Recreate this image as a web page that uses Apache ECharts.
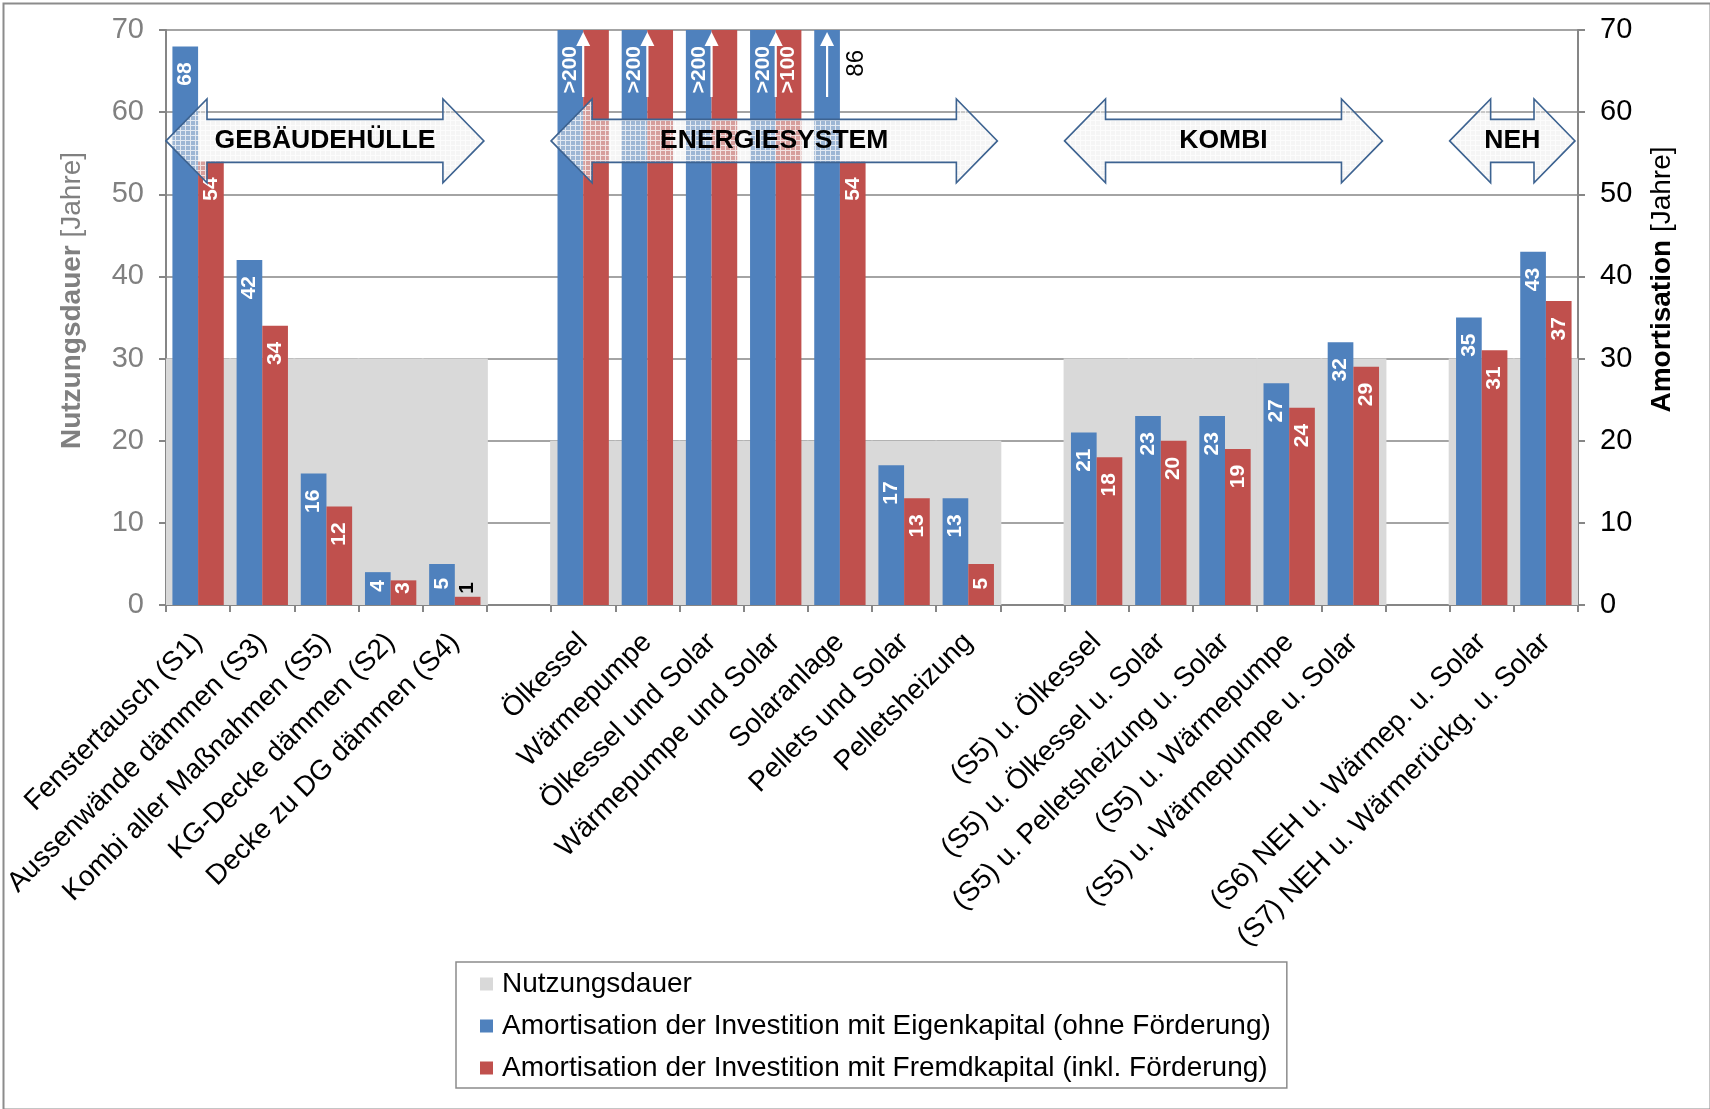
<!DOCTYPE html>
<html><head><meta charset="utf-8">
<script src="https://cdn.jsdelivr.net/npm/echarts@6/dist/echarts.min.js"></script>
<style>html,body{margin:0;padding:0;background:#fff}#c{width:1710px;height:1109px}</style>
</head><body><div id="c"></div>
<script>
const categories = [
  'Fenstertausch (S1)', 'Aussenwände dämmen (S3)', 'Kombi aller Maßnahmen (S5)', 'KG-Decke dämmen (S2)', 'Decke zu DG dämmen (S4)',
  ' ',
  'Ölkessel', 'Wärmepumpe', 'Ölkessel und Solar', 'Wärmepumpe und Solar', 'Solaranlage', 'Pellets und Solar', 'Pelletsheizung',
  '  ',
  '(S5) u. Ölkessel', '(S5) u. Ölkessel u. Solar', '(S5) u. Pelletsheizung u. Solar', '(S5) u. Wärmepumpe', '(S5) u. Wärmepumpe u. Solar',
  '   ',
  '(S6) NEH u. Wärmep. u. Solar', '(S7) NEH u. Wärmerückg. u. Solar'
];
const nutzungsdauer = [30, 30, 30, 30, 30, null, 20, 20, 20, 20, 20, 20, 20, null, 30, 30, 30, 30, 30, null, 30, 30];
const eigenkapital  = [68, 42, 16, 4, 5, null, 200, 200, 200, 200, 86, 17, 13, null, 21, 23, 23, 27, 32, null, 35, 43];
const fremdkapital  = [54, 34, 12, 3, 1, null, 200, 200, 200, 100, 54, 13, 5, null, 18, 20, 19, 24, 29, null, 31, 37];
// indices whose value is only a lower bound (shown as ">value")
const eigenkapitalLowerBound = [6, 7, 8, 9];
const fremdkapitalLowerBound = [9];
// indices without a value label in the original
const fremdkapitalNoLabel = [6, 7, 8];
const groups = [
  { name: 'GEBÄUDEHÜLLE', first: 0, last: 4 },
  { name: 'ENERGIESYSTEM', first: 6, last: 12 },
  { name: 'KOMBI', first: 14, last: 18 },
  { name: 'NEH', first: 20, last: 21 }
];
const yMin = 0, yMax = 70, yStep = 10;
const seriesNames = ['Nutzungsdauer',
  'Amortisation der Investition mit Eigenkapital (ohne Förderung)',
  'Amortisation der Investition mit Fremdkapital (inkl. Förderung)'];

const FONT = 'Liberation Sans, Arial, sans-serif';
const GRIDC = '#868686';

function labelText(lb) {
  return p => (lb.includes(p.dataIndex) ? '>' : '') + p.value;
}
function dist(v) { return Math.max(2, Math.min(16, (v - 3) * 6 + 2)); }
const baseLabel = {
  show: true, position: 'insideTop', rotate: 90, align: 'right', verticalAlign: 'middle',
  distance: 16, color: '#fff', fontWeight: 'bold', fontSize: 21, fontFamily: FONT
};
const blueData = eigenkapital.map((v, i) => {
  if (v == null) return null;
  if (v > yMax && !eigenkapitalLowerBound.includes(i)) {
    // exact value beyond axis: label outside, black
    return { value: v, label: { position: ['165%', 20], align: 'right', verticalAlign: 'middle',
      color: '#000', fontWeight: 'normal', fontSize: 24 } };
  }
  if (v < 6) return { value: v, label: { distance: dist(v) } };
  return v;
});
const redData = fremdkapital.map((v, i) => {
  if (v == null) return null;
  if (fremdkapitalNoLabel.includes(i)) return { value: v, label: { show: false } };
  if (v < 2) return { value: v, label: { position: 'top', distance: 3, align: 'left', verticalAlign: 'middle', color: '#000' } };
  if (v < 6) return { value: v, label: { distance: dist(v) } };
  return v;
});
const overflow = eigenkapital.map((v, i) => (v != null && v > yMax ? [i] : null)).filter(Boolean);

// pattern for the group arrows
const pc = document.createElement('canvas');
pc.width = 5; pc.height = 5;
const pctx = pc.getContext('2d');
pctx.fillStyle = 'rgba(236,236,236,0.5)';
pctx.fillRect(0, 0, 5, 5);
pctx.fillStyle = 'rgba(255,255,255,0.7)';
pctx.fillRect(0, 0, 5, 1);
pctx.fillRect(0, 1, 1, 4);

const chart = echarts.init(document.getElementById('c'));
chart.setOption({
  animation: false,
  backgroundColor: '#fff',
  textStyle: { fontFamily: FONT },
  graphic: [{ type: 'rect', left: 1, top: 1, silent: true, z: -10,
    shape: { width: 1707, height: 1106 }, style: { fill: 'none', stroke: '#8c8c8c', lineWidth: 2 } }],
  grid: { left: 166, right: 132, top: 30, bottom: 504, containLabel: false, outerBoundsMode: 'none' },
  legend: {
    data: seriesNames, orient: 'vertical', left: 456, top: 962,
    padding: [8, 16, 6, 24], itemGap: 14, itemWidth: 13, itemHeight: 13, icon: 'rect',
    borderColor: '#8c8c8c', borderWidth: 1.5, selectedMode: false,
    textStyle: { fontSize: 28, color: '#000', fontFamily: FONT, padding: [0, 0, 0, 4] }
  },
  xAxis: [{
    type: 'category', data: categories, position: 'bottom',
    axisLine: { lineStyle: { color: GRIDC, width: 2 } },
    axisTick: { show: true, length: 7, interval: 0, lineStyle: { color: GRIDC, width: 2 } },
    axisLabel: { rotate: 45, interval: 0, fontSize: 28, color: '#000', margin: 33, fontFamily: FONT }
  }, {
    type: 'category', data: categories, show: false
  }],
  yAxis: [{
    type: 'value', position: 'left', min: yMin, max: yMax, interval: yStep,
    axisLine: { show: true, lineStyle: { color: GRIDC, width: 2 } },
    axisTick: { show: true, length: 7, lineStyle: { color: GRIDC, width: 2 } },
    axisLabel: { fontSize: 29, color: '#808080', margin: 22, fontFamily: FONT },
    splitLine: { show: false },
    name: '{b|Nutzungsdauer }{n|[Jahre]}', nameLocation: 'middle', nameGap: 80, nameRotate: 90,
    nameTextStyle: { padding: [0, 0, 0, 34], rich: {
      b: { fontWeight: 'bold', fontSize: 28, color: '#808080', fontFamily: FONT },
      n: { fontSize: 28, color: '#808080', fontFamily: FONT } } }
  }, {
    type: 'value', position: 'right', min: yMin, max: yMax, interval: yStep,
    axisLine: { show: true, lineStyle: { color: GRIDC, width: 2 } },
    axisTick: { show: true, length: 7, lineStyle: { color: GRIDC, width: 2 } },
    axisLabel: { fontSize: 29, color: '#000', margin: 22, fontFamily: FONT },
    splitLine: { show: true, lineStyle: { color: GRIDC, width: 1.6 } },
    name: '{b|Amortisation }{n|[Jahre]}', nameLocation: 'middle', nameGap: 70, nameRotate: 90,
    nameTextStyle: { padding: [0, 0, 0, 76], rich: {
      b: { fontWeight: 'bold', fontSize: 28, color: '#000', fontFamily: FONT },
      n: { fontSize: 28, color: '#000', fontFamily: FONT } } }
  }],
  series: [{
    name: seriesNames[0], type: 'bar', xAxisIndex: 1, yAxisIndex: 0,
    data: nutzungsdauer, barWidth: '103%',
    itemStyle: { color: '#d9d9d9' }, silent: true
  }, {
    name: seriesNames[1], type: 'bar', xAxisIndex: 0, yAxisIndex: 1,
    data: blueData, barGap: '0%', barCategoryGap: '20%', itemStyle: { color: '#4f81bd' },
    label: Object.assign({}, baseLabel, { formatter: labelText(eigenkapitalLowerBound) }), z: 3
  }, {
    name: seriesNames[2], type: 'bar', xAxisIndex: 0, yAxisIndex: 1,
    data: redData, barGap: '0%', barCategoryGap: '20%', itemStyle: { color: '#c0504d' },
    label: Object.assign({}, baseLabel, { formatter: labelText(fremdkapitalLowerBound) }), z: 3
  }, {
    type: 'custom', xAxisIndex: 0, yAxisIndex: 1, z: 5, silent: true,
    data: overflow,
    renderItem(params, api) {
      const i = api.value(0);
      const bw = api.size([1, 0])[0];
      const c = api.coord([i, yMax]);
      const x = fremdkapital[i] > yMax ? c[0] : c[0] - bw * 0.2;
      const top = c[1] + 2, bottom = c[1] + 67;
      return { type: 'group', children: [
        { type: 'line', shape: { x1: x, y1: bottom, x2: x, y2: top + 12 }, style: { stroke: '#fff', lineWidth: 2.2 } },
        { type: 'polygon', shape: { points: [[x, top], [x - 7, top + 14], [x + 7, top + 14]] }, style: { fill: '#fff' } }
      ] };
    }
  }, {
    type: 'custom', xAxisIndex: 0, yAxisIndex: 1, z: 6, silent: true,
    data: groups.map((g, k) => [g.first, g.last, k]),
    renderItem(params, api) {
      const bw = api.size([1, 0])[0];
      const l = api.coord([api.value(0), 0])[0] - bw / 2;
      const r = api.coord([api.value(1), 0])[0] + bw / 2 - 3;
      const cy = api.coord([0, 56.5])[1];
      const H = 41, A = 42, S = 21.5;
      const pts = [[l, cy], [l + H, cy - A], [l + H, cy - S], [r - H, cy - S], [r - H, cy - A], [r, cy],
        [r - H, cy + A], [r - H, cy + S], [l + H, cy + S], [l + H, cy + A]];
      return { type: 'group', children: [
        { type: 'polygon', shape: { points: pts },
          style: { fill: { image: pc, repeat: 'repeat' }, stroke: '#3d6391', lineWidth: 1.6 } },
        { type: 'text', style: { text: groups[api.value(2)].name, x: (l + r) / 2, y: cy,
          align: 'center', verticalAlign: 'middle', fill: '#000', fontSize: 26.5, fontWeight: 'bold', fontFamily: FONT } }
      ] };
    }
  }]
});
</script></body></html>
